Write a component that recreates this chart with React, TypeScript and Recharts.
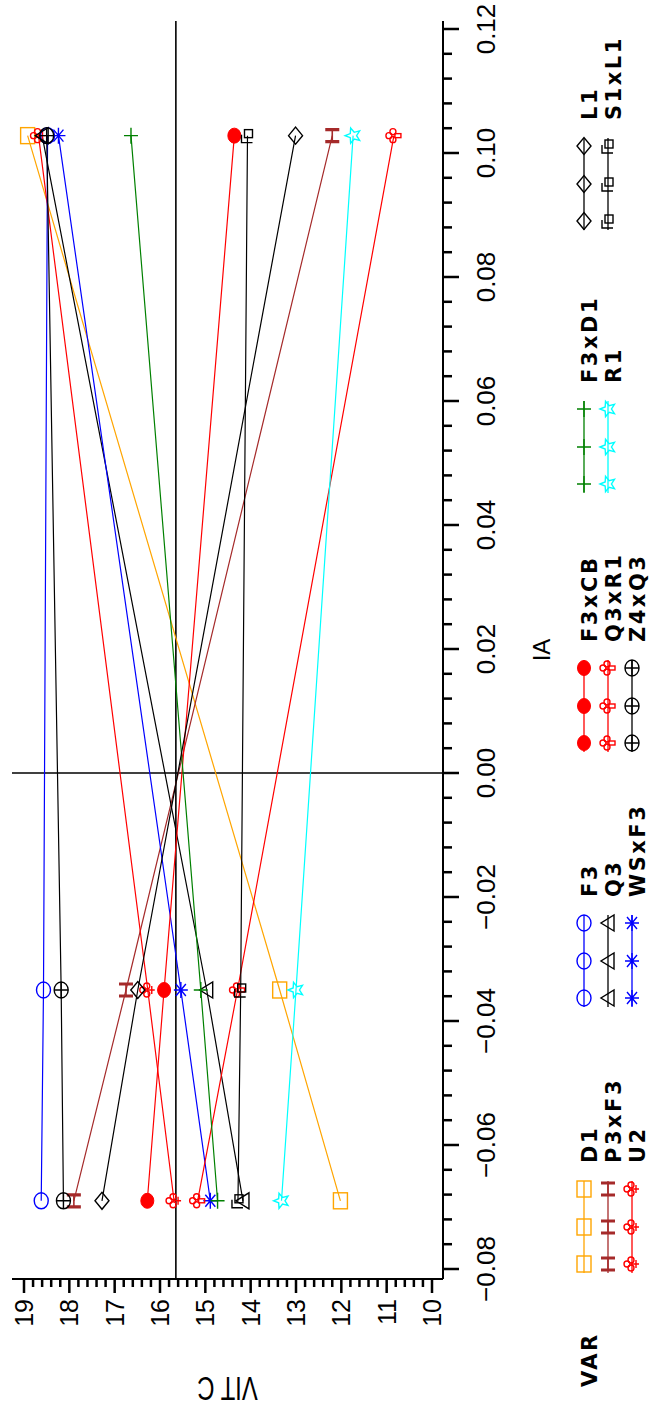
import React from "react";
import { LineChart, Line, XAxis, YAxis, ReferenceLine } from "recharts";

// IA levels shared by every VAR series
const iaLevels = [-0.069, -0.035, 0.1028];

// VIT C at each IA level, one array per VAR
const d1 = [12.02, 13.36, 18.92];
const p3xF3 = [17.9, 16.75, 12.2];
const u2 = [15.69, 16.27, 18.68];
const f3 = [18.62, 18.57, 18.48];
const q3 = [14.17, 14.97, 18.6];
const wsxF3 = [14.89, 15.54, 18.24];
const f3xCB = [16.28, 15.91, 14.36];
const q3xR1 = [15.17, 14.29, 10.84];
const z4xQ3 = [18.13, 18.18, 18.5];
const f3xD1 = [14.73, 15.1, 16.64];
const r1 = [13.32, 13.0, 11.74];
const l1 = [17.28, 16.49, 13.01];
const s1xL1 = [14.28, 14.22, 14.07];

const vitcReference = 15.65;

const iaMajorTicks = [-0.08, -0.06, -0.04, -0.02, 0, 0.02, 0.04, 0.06, 0.08, 0.1, 0.12];
const vitcMajorTicks = [10, 11, 12, 13, 14, 15, 16, 17, 18, 19];

type Shape =
  | "square" | "H" | "flower" | "circle" | "triangle" | "asterisk" | "dot"
  | "club" | "circlePlus" | "plus" | "star" | "diamond" | "flag";

const series: { name: string; color: string; shape: Shape; values: number[] }[] = [
  { name: "D1", color: "#FFA500", shape: "square", values: d1 },
  { name: "P3xF3", color: "#A52A2A", shape: "H", values: p3xF3 },
  { name: "U2", color: "#FF0000", shape: "flower", values: u2 },
  { name: "F3", color: "#0000FF", shape: "circle", values: f3 },
  { name: "Q3", color: "#000000", shape: "triangle", values: q3 },
  { name: "WSxF3", color: "#0000FF", shape: "asterisk", values: wsxF3 },
  { name: "F3xCB", color: "#FF0000", shape: "dot", values: f3xCB },
  { name: "Q3xR1", color: "#FF0000", shape: "club", values: q3xR1 },
  { name: "Z4xQ3", color: "#000000", shape: "circlePlus", values: z4xQ3 },
  { name: "F3xD1", color: "#008000", shape: "plus", values: f3xD1 },
  { name: "R1", color: "#00FFFF", shape: "star", values: r1 },
  { name: "L1", color: "#000000", shape: "diamond", values: l1 },
  { name: "S1xL1", color: "#000000", shape: "flag", values: s1xL1 },
];

const legendColumns = [
  ["D1", "P3xF3", "U2"],
  ["F3", "Q3", "WSxF3"],
  ["F3xCB", "Q3xR1", "Z4xQ3"],
  ["F3xD1", "R1"],
  ["L1", "S1xL1"],
];

const rows = iaLevels.map((ia, i) => {
  const row: Record<string, number> = { ia };
  series.forEach((s) => (row[s.name] = s.values[i]));
  return row;
});

// every tick position, four minors between each pair of majors
function allTicks(majors: number[], parts: number) {
  const out: { v: number; major: boolean }[] = [];
  for (let i = 0; i < majors.length - 1; i++) {
    const a = majors[i];
    const b = majors[i + 1];
    for (let k = 0; k < parts; k++) out.push({ v: a + ((b - a) * k) / parts, major: k === 0 });
  }
  out.push({ v: majors[majors.length - 1], major: true });
  return out;
}

const W = 1412;
const H = 651;
const PLOT_LEFT = 133;
const PLOT_TOP = 12;
const PLOT_RIGHT = 21;
const X_AXIS_H = 208;
const PLOT_BOTTOM = H - X_AXIS_H;
const IA_DOMAIN = [-0.08, 0.12];
const VITC_DOMAIN = [10, 19];
const IA_PADDING = { left: 10, right: 8 };
const VITC_PADDING = { top: 12, bottom: 11 };
const AXIS_STROKE = { stroke: "#000", strokeWidth: 2 };

// same linear mapping the axes use (domain + padding inside the plot box)
const iaToX = (v: number) => {
  const x0 = PLOT_LEFT + IA_PADDING.left;
  const x1 = W - PLOT_RIGHT - IA_PADDING.right;
  return x0 + ((v - IA_DOMAIN[0]) / (IA_DOMAIN[1] - IA_DOMAIN[0])) * (x1 - x0);
};
const vitcToY = (v: number) => {
  const y0 = PLOT_BOTTOM - VITC_PADDING.bottom;
  const y1 = PLOT_TOP + VITC_PADDING.top;
  return y0 - ((v - VITC_DOMAIN[0]) / (VITC_DOMAIN[1] - VITC_DOMAIN[0])) * (y0 - y1);
};

function Marker({ shape, color, cx, cy }: { shape: Shape; color: string; cx: number; cy: number }) {
  const p = { stroke: color, strokeWidth: 1.4, fill: "none" };
  switch (shape) {
    case "square":
      return <rect x={cx - 8} y={cy - 7} width={16} height={14} {...p} />;
    case "H":
      return (
        <g>
          <path d={`M${cx - 6},${cy - 7}V${cy + 7}M${cx + 6},${cy - 7}V${cy + 7}`} stroke={color} strokeWidth={3.2} />
          <path d={`M${cx - 6},${cy}H${cx + 6}`} stroke={color} strokeWidth={1.6} />
        </g>
      );
    case "flower":
      return (
        <g {...p}>
          <circle cx={cx - 4} cy={cy - 1} r={3} />
          <circle cx={cx + 4} cy={cy - 1} r={3} />
          <circle cx={cx} cy={cy - 5} r={3} />
          <path d={`M${cx},${cy - 1}V${cy + 7}M${cx - 4},${cy + 4}H${cx + 4}`} />
        </g>
      );
    case "club":
      return (
        <g {...p}>
          <circle cx={cx - 4} cy={cy - 1} r={3} />
          <circle cx={cx + 4} cy={cy - 1} r={3} />
          <circle cx={cx} cy={cy - 5} r={3} />
          <rect x={cx - 2} y={cy + 1} width={4} height={6} />
        </g>
      );
    case "circle":
      return <ellipse cx={cx} cy={cy} rx={8} ry={7} {...p} />;
    case "dot":
      return <ellipse cx={cx} cy={cy} rx={7.5} ry={6.5} fill={color} stroke={color} />;
    case "triangle":
      return <path d={`M${cx - 8},${cy + 6}L${cx},${cy - 7}L${cx + 8},${cy + 6}Z`} {...p} />;
    case "asterisk":
      return (
        <path
          d={`M${cx - 8},${cy}H${cx + 8}M${cx},${cy - 7}V${cy + 7}M${cx - 6},${cy - 5}L${cx + 6},${cy + 5}M${cx - 6},${cy + 5}L${cx + 6},${cy - 5}`}
          {...p}
        />
      );
    case "circlePlus":
      return (
        <g {...p}>
          <ellipse cx={cx} cy={cy} rx={8} ry={7} />
          <path d={`M${cx - 8},${cy}H${cx + 8}M${cx},${cy - 7}V${cy + 7}`} />
        </g>
      );
    case "plus":
      return <path d={`M${cx - 8},${cy}H${cx + 8}M${cx},${cy - 7}V${cy + 7}`} {...p} />;
    case "star": {
      const pts: string[] = [];
      for (let i = 0; i < 10; i++) {
        const a = -Math.PI / 2 + (i * Math.PI) / 5;
        const r = i % 2 === 0 ? 8 : 3.5;
        pts.push(`${cx + r * Math.cos(a)},${cy + r * Math.sin(a)}`);
      }
      return <polygon points={pts.join(" ")} {...p} />;
    }
    case "diamond":
      return <path d={`M${cx - 8.5},${cy}L${cx},${cy - 7}L${cx + 8.5},${cy}L${cx},${cy + 7}Z`} {...p} />;
    case "flag":
      return (
        <g {...p}>
          <rect x={cx - 2} y={cy - 3} width={8} height={8} />
          <path d={`M${cx - 7},${cy + 5}V${cy - 6}H${cx + 1}`} />
        </g>
      );
  }
  return null;
}

function IaLabel({ x, payload }: any) {
  const v = Math.abs(payload.value) < 1e-9 ? 0 : payload.value;
  return (
    <text x={x} y={PLOT_BOTTOM + 52} textAnchor="middle" fontSize={26} fill="#000">
      {v.toFixed(2).replace("-", "\u2212")}
    </text>
  );
}

function VitcLabel({ y, payload }: any) {
  return (
    <text x={PLOT_LEFT - 20} y={y + 9} textAnchor="end" fontSize={25} fill="#000">
      {Math.round(payload.value)}
    </text>
  );
}

function Overlay() {
  const colStarts = [139, 405, 660, 919, 1182];
  const lineYs = [584, 608, 632];
  const byName = Object.fromEntries(series.map((s) => [s.name, s]));
  const legendFont = { fontSize: 21, fontWeight: "bold", fontFamily: "DejaVu Sans", letterSpacing: 2.5 } as const;
  // tick marks as filled rects, long on majors
  const iaTickMarks = allTicks(iaMajorTicks, 5).map(({ v, major }, i) => (
    <rect key={`ia${i}`} x={iaToX(v) - 1.25} y={PLOT_BOTTOM} width={2.5} height={major ? 16 : 9} fill="#000" />
  ));
  const vitcTickMarks = allTicks(vitcMajorTicks, 5).map(({ v, major }, i) => {
    const len = major ? 14 : 8;
    return <rect key={`vc${i}`} x={PLOT_LEFT - len} y={vitcToY(v) - 1.25} width={len} height={2.5} fill="#000" />;
  });
  return (
    <svg width={W} height={H} style={{ position: "absolute", left: 0, top: 0, pointerEvents: "none" }}>
      <g>{iaTickMarks}</g>
      <g>{vitcTickMarks}</g>
      <text x={(PLOT_LEFT + W - PLOT_RIGHT) / 2} y={550} textAnchor="middle" fontSize={24} fill="#000">
        IA
      </text>
      <text
        transform={`translate(35, ${(PLOT_TOP + PLOT_BOTTOM) / 2}) rotate(-90) scale(0.7, 1)`}
        textAnchor="middle"
        fontSize={34}
        fill="#000"
      >
        VIT C
      </text>
      <text x={25} y={597} {...legendFont} fill="#000">
        VAR
      </text>
      {legendColumns.map((col, ci) =>
        col.map((name, ri) => {
          const s = byName[name];
          const x0 = colStarts[ci];
          const y0 = lineYs[ri];
          return (
            <g key={name}>
              <line x1={x0} y1={y0} x2={x0 + 92} y2={y0} stroke={s.color} strokeWidth={1.3} />
              {[9, 46, 84].map((dx) => (
                <Marker key={dx} shape={s.shape} color={s.color} cx={x0 + dx} cy={y0} />
              ))}
              <text x={x0 + 110} y={y0 + 13} {...legendFont} fill="#000">
                {name}
              </text>
            </g>
          );
        })
      )}
    </svg>
  );
}

export default function App() {
  return (
    <div style={{ position: "absolute", left: 0, top: 0, width: H, height: W, overflow: "hidden", background: "#fff" }}>
      <div
        style={{
          position: "absolute",
          left: 0,
          top: 0,
          width: W,
          height: H,
          transformOrigin: "0 0",
          transform: `translate(0px, ${W}px) rotate(-90deg)`,
          fontFamily: "'Liberation Sans', Arial, sans-serif",
        }}
      >
        <LineChart width={W} height={H} data={rows} margin={{ top: PLOT_TOP, right: PLOT_RIGHT, left: 0, bottom: 0 }}>
          <XAxis
            dataKey="ia"
            type="number"
            domain={IA_DOMAIN}
            ticks={iaMajorTicks}
            interval={0}
            padding={IA_PADDING}
            height={X_AXIS_H}
            tickLine={false}
            tick={<IaLabel />}
            axisLine={AXIS_STROKE}
          />
          <YAxis
            type="number"
            domain={VITC_DOMAIN}
            ticks={vitcMajorTicks}
            interval={0}
            padding={VITC_PADDING}
            width={PLOT_LEFT}
            tickLine={false}
            tick={<VitcLabel />}
            axisLine={AXIS_STROKE}
          />
          <XAxis
            xAxisId="top"
            orientation="top"
            type="number"
            domain={IA_DOMAIN}
            height={0}
            tick={false}
            tickLine={false}
            axisLine={AXIS_STROKE}
          />
          <YAxis
            yAxisId="right"
            orientation="right"
            type="number"
            domain={VITC_DOMAIN}
            width={0}
            tick={false}
            tickLine={false}
            axisLine={AXIS_STROKE}
          />
          <ReferenceLine x={0} stroke="#000" strokeWidth={1.6} />
          <ReferenceLine y={vitcReference} stroke="#000" strokeWidth={1.6} />
          {series.map((s) => (
            <Line
              key={s.name}
              dataKey={s.name}
              type="linear"
              stroke={s.color}
              strokeWidth={1.2}
              isAnimationActive={false}
              activeDot={false}
              legendType="none"
              dot={(props: any) => (
                <Marker key={`${s.name}-${props.index}`} shape={s.shape} color={s.color} cx={props.cx} cy={props.cy} />
              )}
            />
          ))}
        </LineChart>
        <Overlay />
      </div>
    </div>
  );
}
